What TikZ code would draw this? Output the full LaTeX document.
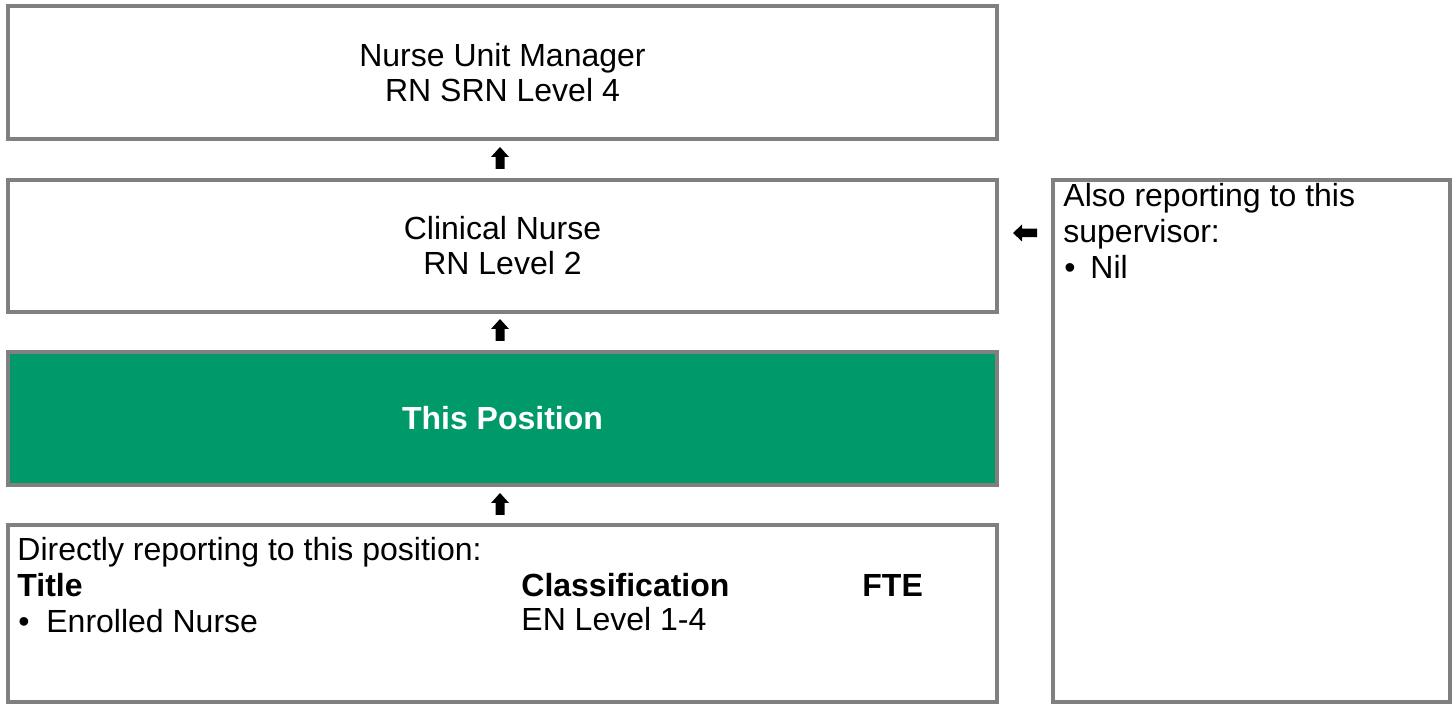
\documentclass[tikz,border=0pt]{standalone}
\usepackage{fontspec}
\setmainfont{Liberation Sans}
\definecolor{boxgray}{RGB}{128,128,128}
\definecolor{posgreen}{RGB}{0,153,106}
\begin{document}
\begin{tikzpicture}[x=0.5pt,y=-0.5pt,
  box/.style={draw=boxgray,line width=2pt},
  txt/.style={font=\fontsize{16}{17.5}\selectfont,inner sep=0pt},
  boldtxt/.style={txt,font=\fontsize{16}{17.5}\selectfont\bfseries}]
\useasboundingbox (0,0) rectangle (1456,704);
% boxes
\draw[box] (8,6) rectangle (997,139);
\coordinate (b1) at (502.5,72.5);
\draw[box] (8,180) rectangle (997,312);
\coordinate (b2) at (502.5,246);
\draw[box,fill=posgreen] (8,352) rectangle (997,485);
\coordinate (b3) at (502.5,418.5);
\draw[box] (8,525) rectangle (997,702);
\draw[box] (1053,180) rectangle (1450,702);
% texts
\node[txt,align=center] (t1) at (b1) {Nurse Unit Manager\\RN SRN Level 4};
\node[txt,align=center] (t2) at (b2) {Clinical Nurse\\RN Level 2};
\node[boldtxt,text=white] (t3) at (b3) {This Position};
\node[txt,anchor=base west] (d1) at (17,561) {Directly reporting to this position:};
\node[boldtxt,anchor=base west] (d2) at (17,597) {Title};
\node[boldtxt,anchor=base west] (d3) at (521,597) {Classification};
\node[boldtxt,anchor=base west] (d4) at (862,597) {FTE};
\node[txt,anchor=base west] (d5) at (18,633) {\textbullet};
\node[txt,anchor=base west] (d6) at (46,633) {Enrolled Nurse};
\node[txt,anchor=base west] (d7) at (521,631) {EN Level 1-4};
\node[txt,anchor=base west] (r1) at (1063,207) {Also reporting to this};
\node[txt,anchor=base west] (r2) at (1063,243) {supervisor:};
\node[txt,anchor=base west] (r3) at (1064,279) {\textbullet};
\node[txt,anchor=base west] (r4) at (1090,279) {Nil};
% arrows
\coordinate (a1) at (500,158);
\coordinate (a2) at (500,330);
\coordinate (a3) at (500,504);
\coordinate (a4) at (1025,233);
\foreach \c in {a1,a2,a3}{
  \fill[shift={(\c)}] (0,-11) -- (9,-1) -- (4.5,-1) -- (4.5,11) -- (-4.5,11) -- (-4.5,-1) -- (-9,-1) -- cycle;
}
\fill[shift={(a4)}] (-12,0) -- (-3,-8.5) -- (-3,-4.25) -- (12,-4.25) -- (12,4.25) -- (-3,4.25) -- (-3,8.5) -- cycle;
\end{tikzpicture}
\end{document}
